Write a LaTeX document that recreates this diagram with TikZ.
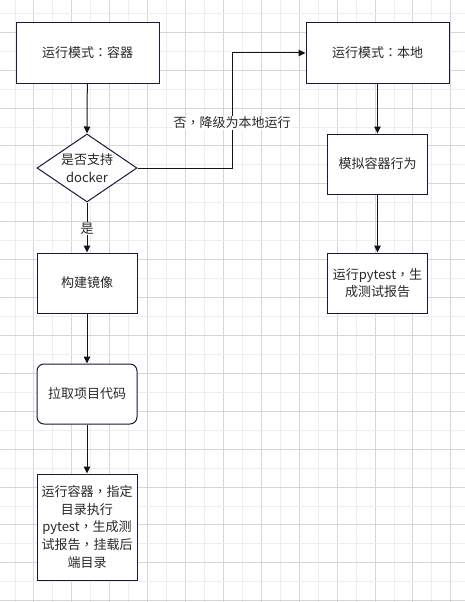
\documentclass[tikz,border=0pt]{standalone}
\usepackage{fontspec}
\setmainfont{Noto Sans CJK SC}
\newfontfamily\tcpunct{Noto Sans CJK TC}
\newcommand{\pcm}{{\tcpunct ，}}
\newcommand{\pcl}{{\tcpunct ：}}
\usetikzlibrary{arrows.meta,shapes.geometric}
\definecolor{gridlight}{RGB}{238,238,238}
\definecolor{griddark}{RGB}{214,214,214}
\definecolor{boxline}{RGB}{22,24,62}
\definecolor{txt}{RGB}{40,40,40}
\definecolor{arrline}{RGB}{20,20,20}
\begin{document}
\begin{tikzpicture}[x=1pt,y=-1pt,
  font=\fontsize{13}{17.7}\selectfont,
  boxshape/.style={draw=boxline, line width=1pt, fill=white, text=txt, inner sep=0pt, align=center},
  wide/.style={boxshape, minimum width=143, minimum height=60},
  narrow/.style={boxshape, minimum width=100, minimum height=60},
  arr/.style={draw=arrline, line width=1pt, -{Triangle[length=7pt,width=6.5pt]}},
  lbl/.style={fill=white, text=txt, inner sep=1pt}]
\fill[white] (0,0) rectangle (465,602);
\useasboundingbox (0,0) rectangle (465,602);
% grid
\foreach \k in {0,...,23} {
  \pgfmathsetmacro{\gx}{15+18.95*\k}
  \pgfmathtruncatemacro{\odd}{mod(\k,2)}
  \ifnum\odd=1 \draw[griddark, line width=1pt] (\gx,0) -- (\gx,602);
  \else \draw[gridlight, line width=1pt] (\gx,0) -- (\gx,602); \fi
}
\foreach \k in {0,...,31} {
  \pgfmathsetmacro{\gy}{13.3+18.95*\k}
  \pgfmathtruncatemacro{\odd}{mod(\k,2)}
  \ifnum\odd=1 \draw[griddark, line width=1pt] (0,\gy) -- (465,\gy);
  \else \draw[gridlight, line width=1pt] (0,\gy) -- (465,\gy); \fi
}
% nodes
\node[wide] (b1) at (87.5,53) {运行模式\pcl 容器};
\node[draw=boxline, line width=1pt, fill=white, diamond, minimum width=100, minimum height=68, inner sep=0pt] (d) at (87,168) {};
\node[text=txt, align=center] (dt) at (d) {是否支持\\docker};
\node[narrow] (b2) at (87,283) {构建镜像};
\node[narrow, rounded corners=7pt] (b3) at (87,394) {拉取项目代码};
\node[boxshape, minimum width=100, minimum height=106] (b4) at (87,527) {运行容器\pcm 指定\\目录执行\\pytest\pcm 生成测\\试报告\pcm 挂载后\\端目录};
\node[wide] (r1) at (377.5,53) {运行模式\pcl 本地};
\node[narrow] (r2) at (377.5,164) {模拟容器行为};
\node[narrow, align=center] (r3) at (377.5,283) {运行pytest\pcm 生\\成测试报告};
\coordinate (bend) at (232,168);
% connectors
\draw[arr] (b1) -- (d.north);
\draw[arr] (d.south) -- (b2) node[lbl, pos=0.52] (yes) {是};
\draw[arr] (b2) -- (b3);
\draw[arr] (b3) -- (b4);
\draw[arr] (d.east) -- (bend) |- (r1.west);
\node[lbl] (no) at (232,123) {否\pcm 降级为本地运行};
\draw[arr] (r1) -- (r2);
\draw[arr] (r2) -- (r3);
\end{tikzpicture}
\end{document}
